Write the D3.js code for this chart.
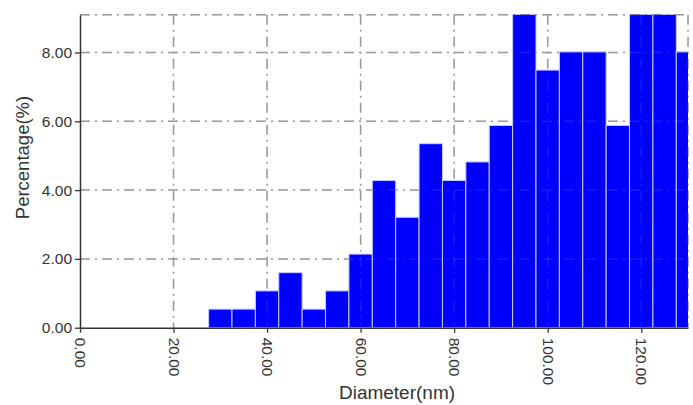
<!DOCTYPE html>
<html>
<head>
<meta charset="utf-8">
<script src="https://cdn.jsdelivr.net/npm/d3@7"></script>
<style>
  html, body { margin: 0; padding: 0; background: #fff; }
  svg { display: block; }
  text { font-family: "Liberation Sans", Arial, sans-serif; fill: #333; }
</style>
</head>
<body>
<svg id="chart" width="693" height="405"></svg>
<script>
// Bin centers (nm), bin width 5 nm
const binCenters = [30, 35, 40, 45, 50, 55, 60, 65, 70, 75, 80, 85, 90, 95, 100, 105, 110, 115, 120, 125, 130];
// Percentage per bin (%)
const percentages = [0.54, 0.54, 1.07, 1.60, 0.54, 1.07, 2.14, 4.28, 3.21, 5.35, 4.28, 4.82, 5.88, 9.63, 7.49, 8.02, 8.02, 5.88, 9.63, 9.63, 8.02];
const binWidth = 5;
const xTicks = [0, 20, 40, 60, 80, 100, 120];
const yTicks = [0, 2, 4, 6, 8];
const xTitle = "Diameter(nm)";
const yTitle = "Percentage(%)";

const svg = d3.select("#chart");
const W = 693, H = 405;
const margin = { left: 80, top: 14.7, right: 5, bottom: 77.3 };

const x = d3.scaleLinear().domain([0, 130]).range([margin.left, W - margin.right]);
const y = d3.scaleLinear().domain([0, 9.1]).range([H - margin.bottom, margin.top]);

const dash = "10,5,2,5";
const gridColor = "#9a9a9a";

svg.append("defs").append("clipPath").attr("id", "plotclip")
  .append("rect")
  .attr("x", x(0)).attr("y", y(9.1))
  .attr("width", x(130) - x(0)).attr("height", y(0) - y(9.1));

function drawGrid(g, opacity) {
  g.selectAll("line.h").data(yTicks.filter(d => d > 0).concat([9.1])).join("line")
    .attr("class", "h")
    .attr("x1", x(0)).attr("x2", x(130))
    .attr("y1", d => y(d)).attr("y2", d => y(d))
    .attr("stroke", gridColor).attr("stroke-width", 1.5)
    .attr("stroke-dasharray", dash).attr("opacity", opacity);
  g.selectAll("line.v").data(xTicks.filter(d => d > 0).concat([130])).join("line")
    .attr("class", "v")
    .attr("x1", d => x(d)).attr("x2", d => x(d))
    .attr("y1", y(9.1)).attr("y2", y(0))
    .attr("stroke", gridColor).attr("stroke-width", 1.5)
    .attr("stroke-dasharray", dash).attr("opacity", opacity);
}

drawGrid(svg.append("g"), 1);

// Bars
svg.append("g").attr("clip-path", "url(#plotclip)")
  .selectAll("rect").data(binCenters.map((c, i) => ({ c, v: percentages[i] }))).join("rect")
  .attr("x", d => x(d.c - binWidth / 2))
  .attr("width", d => x(d.c + binWidth / 2) - x(d.c - binWidth / 2))
  .attr("y", d => y(d.v))
  .attr("height", d => y(0) - y(d.v))
  .attr("fill", "#0000ff")
  .attr("stroke", "#c9c9ff")
  .attr("stroke-width", 1);

// faint grid over bars
drawGrid(svg.append("g"), 0.18);

// Axes
const xAxis = d3.axisBottom(x).tickValues(xTicks).tickFormat(d3.format(".2f")).tickSize(5).tickSizeOuter(0);
const gx = svg.append("g").attr("transform", `translate(0,${y(0)})`).call(xAxis);
gx.select(".domain").attr("stroke", "#333").attr("stroke-width", 1.5);
gx.selectAll(".tick line").attr("stroke", "#333").attr("stroke-width", 1.3);
gx.selectAll(".tick text")
  .attr("transform", "rotate(90)")
  .attr("x", 10).attr("y", 0).attr("dy", "0.35em")
  .attr("text-anchor", "start")
  .style("font-size", "15.5px").style("fill", "#333");

const yAxis = d3.axisLeft(y).tickValues(yTicks).tickFormat(d3.format(".2f")).tickSize(5).tickSizeOuter(0);
const gy = svg.append("g").attr("transform", `translate(${x(0)},0)`).call(yAxis);
gy.select(".domain").attr("stroke", "#333").attr("stroke-width", 1.5);
gy.selectAll(".tick line").attr("stroke", "#333").attr("stroke-width", 1.3);
gy.selectAll(".tick text")
  .attr("x", -8)
  .style("font-size", "15.5px").style("fill", "#333");
gx.attr("font-family", null); gy.attr("font-family", null);
gx.attr("font-size", null); gy.attr("font-size", null);

// Titles
svg.append("text")
  .attr("x", 397).attr("y", 399)
  .attr("text-anchor", "middle")
  .style("font-size", "19px")
  .text(xTitle);

svg.append("text")
  .attr("transform", `translate(29,${(93 + 222) / 2}) rotate(-90)`)
  .attr("text-anchor", "middle")
  .style("font-size", "18.5px")
  .text(yTitle);
</script>
</body>
</html>
